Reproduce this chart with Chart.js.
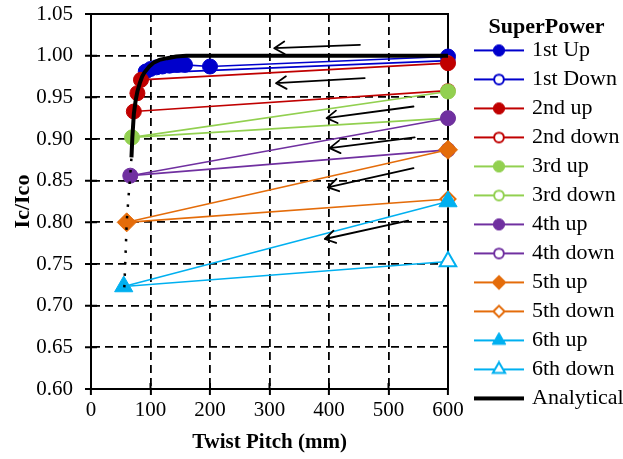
<!DOCTYPE html>
<html>
<head>
<meta charset="utf-8">
<script src="https://cdn.jsdelivr.net/npm/chart.js@4.4.1/dist/chart.umd.min.js"></script>
<style>
  html, body { margin: 0; padding: 0; background: #fff; }
</style>
</head>
<body>
<canvas id="pitchChart" width="623" height="459"></canvas>
<script>
// Ic/Ico versus twist pitch, SuperPower tape, six up/down twisting rounds
const firstUpPitch = [92, 100, 110, 120, 132, 145, 158, 200, 600];
const firstUpIc = [0.981, 0.984, 0.986, 0.987, 0.988, 0.989, 0.989, 0.987, 0.999];
const firstDownPitch = [600, 92];
const firstDownIc = [0.994, 0.979];

const secondUpPitch = [72, 78, 84, 600];
const secondUpIc = [0.933, 0.955, 0.971, 0.991];
const secondDownPitch = [600, 72];
const secondDownIc = [0.958, 0.933];

const thirdUpPitch = [69, 600];
const thirdUpIc = [0.902, 0.957];
const thirdDownPitch = [600, 69];
const thirdDownIc = [0.925, 0.902];

const fourthUpPitch = [66, 600];
const fourthUpIc = [0.856, 0.925];
const fourthDownPitch = [600, 66];
const fourthDownIc = [0.887, 0.856];

const fifthUpPitch = [60, 600];
const fifthUpIc = [0.800, 0.887];
const fifthDownPitch = [600, 60];
const fifthDownIc = [0.828, 0.800];

const sixthUpPitch = [55, 600];
const sixthUpIc = [0.723, 0.825];
const sixthDownPitch = [600, 55];
const sixthDownIc = [0.753, 0.723];

const analyticalPitch = [56, 58, 60, 63, 66, 68, 69.5, 72, 75, 78, 82, 86, 90, 98, 106, 115, 128, 143, 160, 180, 600];
const analyticalIc = [0.722, 0.760, 0.800, 0.830, 0.856, 0.878, 0.902, 0.930, 0.946, 0.957, 0.967, 0.975, 0.980, 0.987, 0.992, 0.995, 0.997, 0.999, 1.000, 1.000, 1.000];

// twisting direction arrows (tail -> head)
const arrowTailPitch = [452, 460, 542, 544, 542, 533];
const arrowTailIc = [1.013, 0.973, 0.939, 0.902, 0.865, 0.802];
const arrowHeadPitch = [308, 311, 396, 401, 398, 393];
const arrowHeadIc = [1.009, 0.967, 0.925, 0.889, 0.842, 0.780];

const FONT = "'Liberation Serif', 'Times New Roman', serif";
const BLUE = '#0000CC', RED = '#C00000', GREEN = '#92D050',
      PURPLE = '#7030A0', ORANGE = '#E46C0A', CYAN = '#00B0F0';

const series = [
  { label: '1st Up', pitch: firstUpPitch, ic: firstUpIc, color: BLUE, style: 'circle', open: false },
  { label: '1st Down', pitch: firstDownPitch, ic: firstDownIc, color: BLUE, style: 'circle', open: true },
  { label: '2nd up', pitch: secondUpPitch, ic: secondUpIc, color: RED, style: 'circle', open: false },
  { label: '2nd down', pitch: secondDownPitch, ic: secondDownIc, color: RED, style: 'circle', open: true },
  { label: '3rd up', pitch: thirdUpPitch, ic: thirdUpIc, color: GREEN, style: 'circle', open: false },
  { label: '3rd down', pitch: thirdDownPitch, ic: thirdDownIc, color: GREEN, style: 'circle', open: true },
  { label: '4th up', pitch: fourthUpPitch, ic: fourthUpIc, color: PURPLE, style: 'circle', open: false },
  { label: '4th down', pitch: fourthDownPitch, ic: fourthDownIc, color: PURPLE, style: 'circle', open: true },
  { label: '5th up', pitch: fifthUpPitch, ic: fifthUpIc, color: ORANGE, style: 'rectRot', open: false },
  { label: '5th down', pitch: fifthDownPitch, ic: fifthDownIc, color: ORANGE, style: 'rectRot', open: true },
  { label: '6th up', pitch: sixthUpPitch, ic: sixthUpIc, color: CYAN, style: 'triangle', open: false },
  { label: '6th down', pitch: sixthDownPitch, ic: sixthDownIc, color: CYAN, style: 'triangle', open: true }
];

const pts = (xs, ys) => xs.map((x, i) => ({ x: x, y: ys[i] }));

// marker radius on the plot and in the legend
function markerRadius(style, open, small) {
  const r = { circle: open ? 6.5 : 7.5, rectRot: open ? 7.5 : 9.5, triangle: open ? 9.5 : 10.5 }[style];
  return small ? r * 0.75 : r;
}

// legend swatch: short line with the marker on it
function legendIcon(color, style, open, lineWidth) {
  const c = document.createElement('canvas');
  c.width = 50; c.height = 18;
  const g = c.getContext('2d');
  g.strokeStyle = color;
  g.lineWidth = lineWidth;
  g.beginPath(); g.moveTo(0, 9); g.lineTo(50, 9); g.stroke();
  if (style) {
    g.fillStyle = open ? '#fff' : color;
    g.lineWidth = open ? 2 : 1;
    Chart.helpers.drawPoint(g, { pointStyle: style, radius: markerRadius(style, open, true), rotation: 0, borderWidth: g.lineWidth }, 25, 9);
  }
  return c;
}

const datasets = series.map((s, i) => ({
  label: s.label,
  data: pts(s.pitch, s.ic),
  borderColor: s.color,
  backgroundColor: s.open ? '#fff' : s.color,
  borderWidth: 1.6,
  pointStyle: s.style,
  pointBackgroundColor: s.open ? '#fff' : s.color,
  pointBorderColor: s.color,
  pointBorderWidth: s.open ? 2 : 1,
  // the short-pitch end of a "down" run sits under the "up" marker
  pointRadius: s.open ? s.pitch.map(p => p === 600 ? markerRadius(s.style, true) : 0) : markerRadius(s.style, false),
  tension: 0,
  clip: false,
  order: series.length + 1 - i,
  icon: legendIcon(s.color, s.style, s.open, 2)
}));

datasets.push({
  label: 'Analytical',
  data: pts(analyticalPitch, analyticalIc),
  borderColor: '#000',
  borderWidth: 4,
  pointRadius: 0,
  tension: 0,
  clip: false,
  order: 0,
  segment: {
    borderDash: ctx => ctx.p1.parsed.y <= 0.9 ? [2.5, 9] : undefined,
    borderWidth: ctx => ctx.p1.parsed.y <= 0.9 ? 2.5 : undefined
  },
  icon: legendIcon('#000', null, false, 4)
});

const framePlugin = {
  id: 'frame',
  beforeDatasetsDraw(chart) {
    const { ctx, chartArea: a, scales } = chart;
    ctx.save();
    ctx.strokeStyle = '#000';
    ctx.lineWidth = 2;
    ctx.strokeRect(a.left, a.top, a.right - a.left, a.bottom - a.top);
    // cross tick marks
    ctx.beginPath();
    scales.x.ticks.forEach(t => {
      const px = scales.x.getPixelForValue(t.value);
      ctx.moveTo(px, a.bottom); ctx.lineTo(px, a.bottom - 6);
    });
    scales.y.ticks.forEach(t => {
      const py = scales.y.getPixelForValue(t.value);
      ctx.moveTo(a.left - 6, py); ctx.lineTo(a.left + 6, py);
    });
    ctx.stroke();
    ctx.restore();
  }
};

const arrowPlugin = {
  id: 'arrows',
  afterDatasetsDraw(chart) {
    const { ctx, scales: { x, y } } = chart;
    ctx.save();
    ctx.strokeStyle = '#000';
    ctx.lineWidth = 1.8;
    ctx.lineCap = 'round';
    arrowTailPitch.forEach((p, i) => {
      const x0 = x.getPixelForValue(p), y0 = y.getPixelForValue(arrowTailIc[i]);
      const x1 = x.getPixelForValue(arrowHeadPitch[i]), y1 = y.getPixelForValue(arrowHeadIc[i]);
      const ang = Math.atan2(y1 - y0, x1 - x0);
      ctx.beginPath();
      ctx.moveTo(x0, y0); ctx.lineTo(x1, y1);
      [-0.55, 0.55].forEach(d => {
        ctx.moveTo(x1 - 12 * Math.cos(ang + d), y1 - 12 * Math.sin(ang + d));
        ctx.lineTo(x1, y1);
      });
      ctx.stroke();
    });
    ctx.restore();
  }
};

const tickFont = { family: FONT, size: 21 };
const titleFont = { family: FONT, size: 21, weight: 'bold' };

new Chart(document.getElementById('pitchChart'), {
  type: 'line',
  data: { datasets: datasets },
  options: {
    responsive: false,
    animation: false,
    layout: { padding: { top: 14, right: 0, bottom: 0, left: 0 } },
    scales: {
      x: {
        type: 'linear', min: 0, max: 600,
        ticks: { stepSize: 100, font: tickFont, color: '#000', padding: 3, maxRotation: 0 },
        grid: { color: '#000', lineWidth: 1.8, tickLength: 6, tickColor: '#000', tickWidth: 2 },
        border: { display: true, color: '#000', width: 2, dash: [8, 5] },
        title: { display: true, text: 'Twist Pitch (mm)', font: titleFont, color: '#000', padding: { top: 0, bottom: 4 } },
        afterFit: s => { s.height = 70; }
      },
      y: {
        type: 'linear', min: 0.6, max: 1.05,
        ticks: { stepSize: 0.05, font: tickFont, color: '#000', padding: 0, callback: v => v.toFixed(2) },
        // outer tick marks come from the frame plugin; tickLength only spaces the labels
        grid: { color: '#000', lineWidth: 1.8, tickLength: 18, tickColor: 'transparent' },
        border: { display: true, color: '#000', width: 2, dash: [8, 5] },
        title: { display: true, text: 'Ic/Ico', font: { family: FONT, size: 22, weight: 'bold' }, color: '#000', padding: { top: 10, bottom: 0 } },
        afterFit: s => { s.width = 91; }
      },
      // spacer between the plot and the legend
      gap: {
        type: 'linear', position: 'right', min: 0.6, max: 1.05,
        ticks: { display: false }, grid: { display: false }, border: { display: false },
        afterFit: s => { s.width = 22; }
      }
    },
    plugins: {
      tooltip: { enabled: false },
      legend: {
        position: 'right',
        align: 'start',
        maxWidth: 153,
        title: {
          display: true, text: 'SuperPower', color: '#000',
          font: { family: FONT, size: 22, weight: 'bold', lineHeight: 0.7 },
          padding: { top: 2, bottom: 1 }
        },
        labels: {
          usePointStyle: true,
          pointStyleWidth: 44,
          padding: 7,
          color: '#000',
          font: { family: FONT, size: 22 },
          sort: (a, b) => a.datasetIndex - b.datasetIndex,
          generateLabels: chart => chart.data.datasets.map((ds, i) => ({
            text: ds.label,
            datasetIndex: i,
            pointStyle: ds.icon,
            fillStyle: 'transparent',
            strokeStyle: 'transparent',
            lineWidth: 0,
            fontColor: '#000',
            hidden: false
          }))
        }
      }
    }
  },
  plugins: [framePlugin, arrowPlugin]
});
</script>
</body>
</html>
